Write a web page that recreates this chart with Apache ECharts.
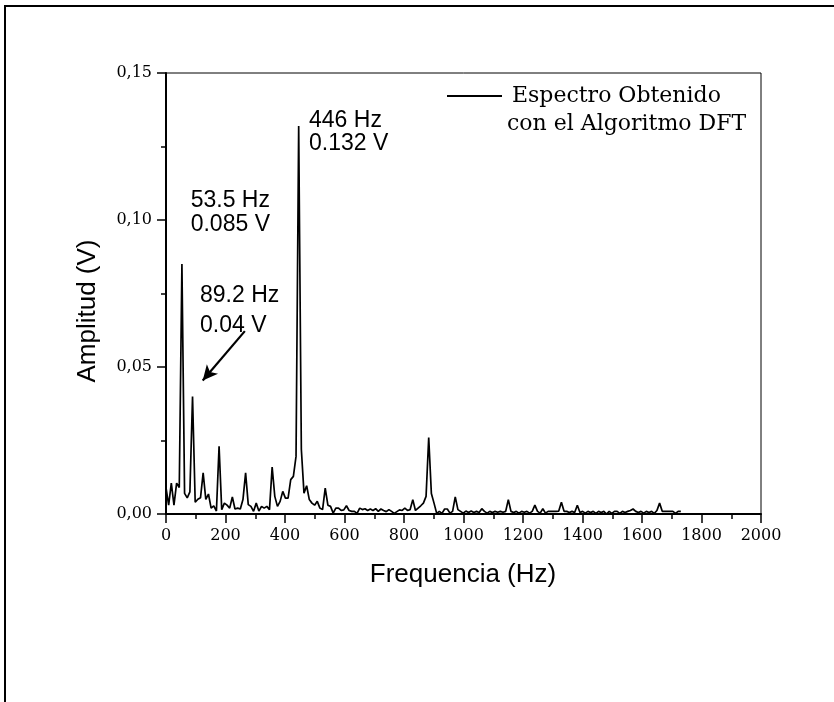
<!DOCTYPE html>
<html><head><meta charset="utf-8">
<script src="https://cdn.jsdelivr.net/npm/echarts@6/dist/echarts.min.js"></script>
<style>html,body{margin:0;padding:0;background:#fff}#c{width:834px;height:702px}</style>
</head><body><div id="c"></div>
<script>
// DFT bin spacing read from the labelled peaks (446 Hz = bin 50)
const binHz = 8.92;
// Amplitude (V) of each DFT bin
const amplitudes = [
 0.009, 0.003, 0.0105, 0.003, 0.0105, 0.009, 0.085, 0.007, 0.0055, 0.0075,
 0.040, 0.004, 0.005, 0.0055, 0.014, 0.005, 0.0068, 0.002, 0.0028, 0.001,
 0.023, 0.0015, 0.0037, 0.003, 0.002, 0.0058, 0.0017, 0.002, 0.0017, 0.0049,
 0.014, 0.0032, 0.0026, 0.0009, 0.0037, 0.001, 0.0026, 0.002, 0.0026, 0.0015,
 0.016, 0.006, 0.0026, 0.0043, 0.0077, 0.0054, 0.0054, 0.0117, 0.0128, 0.0196,
 0.132, 0.022, 0.0071, 0.0096, 0.0049, 0.0037, 0.003, 0.0043, 0.002, 0.0015,
 0.0088, 0.003, 0.0026, 0.0003, 0.002, 0.002, 0.0012, 0.0014, 0.0028, 0.0012,
 0.0009, 0.0009, 0.0002, 0.002, 0.0015, 0.0018, 0.0012, 0.0017, 0.0012, 0.0018,
 0.0009, 0.0017, 0.0012, 0.0008, 0.0015, 0.0009, 0.0002, 0.0008, 0.0014, 0.0012,
 0.002, 0.0012, 0.0015, 0.0049, 0.0012, 0.002, 0.0028, 0.0037, 0.006, 0.026,
 0.007, 0.0037, 0.0002, 0.0009, 0.0002, 0.0017, 0.0017, 0.0003, 0.0009, 0.0058,
 0.0015, 0.0009, 0.0003, 0.001, 0.0005, 0.001, 0.0005, 0.0009, 0.0005, 0.0018,
 0.0009, 0.0003, 0.0009, 0.0005, 0.0009, 0.0006, 0.0009, 0.0006, 0.0009, 0.0049,
 0.0009, 0.0005, 0.0009, 0.0003, 0.0009, 0.0006, 0.0009, 0.0003, 0.0009, 0.003,
 0.0009, 0.0003, 0.0018, 0.0003, 0.0009, 0.0009, 0.0009, 0.0009, 0.001, 0.004,
 0.0009, 0.0009, 0.0005, 0.0009, 0.0005, 0.003, 0.0005, 0.0009, 0.0003, 0.0009,
 0.0005, 0.0009, 0.0002, 0.0009, 0.0005, 0.0009, 0.0, 0.0009, 0.0002, 0.0009,
 0.0009, 0.0002, 0.0009, 0.0005, 0.0009, 0.0012, 0.0017, 0.0009, 0.0005, 0.0009,
 0.0003, 0.0009, 0.0005, 0.0009, 0.0002, 0.0012, 0.0037, 0.0009, 0.0009, 0.0009,
 0.0009, 0.0009, 0.0002, 0.0009, 0.0009
];
const frequencies = amplitudes.map((_, k) => k * binHz);
const xTickLabels = ['0','200','400','600','800','1000','1200','1400','1600','1800','2000'];
const yTickLabels = ['0,00','0,05','0,10','0,15'];
const seriesName = 'Espectro Obtenido';
const seriesNameLine2 = 'con el Algoritmo DFT';
const xTitle = 'Frequencia (Hz)';
const yTitle = 'Amplitud (V)';
const peakNotes = [
  ['446 Hz', '0.132 V'],
  ['53.5 Hz', '0.085 V'],
  ['89.2 Hz', '0.04 V']
];

const serif = '"DejaVu Serif", serif';
const sans = '"Liberation Sans", Arial, sans-serif';
const chart = echarts.init(document.getElementById('c'), null, {renderer: 'canvas'});

const axisCommon = {
  type: 'value',
  axisLine: {show: true, onZero: false, lineStyle: {color: '#000', width: 2}},
  axisTick: {show: true, inside: false, length: 9, lineStyle: {color: '#000', width: 1.5}},
  minorTick: {show: true, splitNumber: 2, length: 5, lineStyle: {color: '#000', width: 1.5}},
  splitLine: {show: false},
  minorSplitLine: {show: false}
};

chart.setOption({
  animation: false,
  backgroundColor: '#fff',
  grid: {left: 166, top: 73, width: 595, height: 441, show: true, borderColor: '#000', borderWidth: 1, backgroundColor: 'transparent'},
  legend: {
    show: true, left: 447, top: 85, padding: 0,
    itemWidth: 55, itemHeight: 2, itemGap: 0,
    textStyle: {fontFamily: serif, fontSize: 22, color: '#000', padding: [0, 0, 0, 5]},
    data: [{name: seriesName, icon: 'rect'}]
  },
  xAxis: Object.assign({}, axisCommon, {
    min: 0, max: 2000, interval: 200,
    axisLabel: {fontFamily: serif, fontSize: 16, color: '#000', margin: 14,
      formatter: (v, i) => xTickLabels[i]}
  }),
  yAxis: Object.assign({}, axisCommon, {
    min: 0, max: 0.15, interval: 0.05,
    axisLabel: {fontFamily: serif, fontSize: 16, color: '#000', margin: 14,
      formatter: (v, i) => yTickLabels[i]}
  }),
  series: [{
    type: 'line',
    name: seriesName,
    data: frequencies.map((f, i) => [f, amplitudes[i]]),
    symbol: 'none',
    showSymbol: false,
    lineStyle: {color: '#000', width: 1.7},
    itemStyle: {color: '#000'},
    markLine: {
      silent: true, animation: false,
      symbol: ['none', 'arrow'], symbolSize: [11, 15],
      label: {show: false},
      lineStyle: {color: '#000', width: 2.2, type: 'solid'},
      data: [[{coord: [265, 0.0622]}, {coord: [123.4, 0.0454]}]]
    }
  }]
});

function px(p) { return chart.convertToPixel({gridIndex: 0}, p); }
const notePos = [
  [[480.7, 0.1339], [480.7, 0.1259]],
  [[83, 0.1066], [83, 0.0984]],
  [[114.3, 0.0741], [114.3, 0.0639]]
];
const graphics = [];
peakNotes.forEach((lines, n) => {
  lines.forEach((t, j) => {
    const p = px(notePos[n][j]);
    graphics.push({type: 'text', x: p[0], y: p[1], silent: true,
      style: {text: t, fill: '#000', font: '23px ' + sans, verticalAlign: 'middle', align: 'left'}});
  });
});
graphics.push({type: 'text', x: 507, y: 124, silent: true,
  style: {text: seriesNameLine2, fill: '#000', font: '22px ' + serif, verticalAlign: 'middle', align: 'left'}});
// axis titles
graphics.push({type: 'text', x: 463, y: 575, silent: true,
  style: {text: xTitle, fill: '#000', font: '26px ' + sans, verticalAlign: 'middle', align: 'center'}});
graphics.push({type: 'text', x: 88, y: 311, rotation: Math.PI / 2, silent: true,
  style: {text: yTitle, fill: '#000', font: '26px ' + sans, verticalAlign: 'middle', align: 'center'}});
// outer frame
graphics.push({type: 'polyline', silent: true,
  shape: {points: [[5, 702], [5, 6], [834, 6]]},
  style: {stroke: '#000', lineWidth: 2, fill: null}});
chart.setOption({graphic: graphics});
</script>
</body></html>
